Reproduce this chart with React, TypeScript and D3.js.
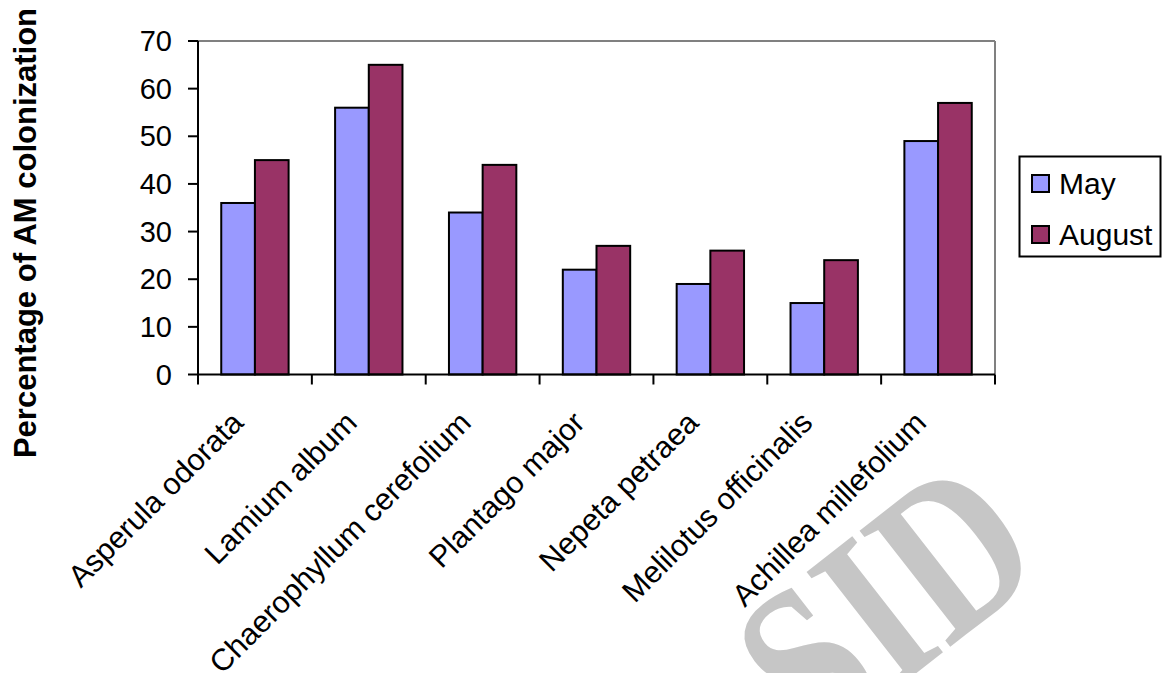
import React from "react";
import * as d3 from "d3";

const categories = [
  "Asperula odorata",
  "Lamium album",
  "Chaerophyllum cerefolium",
  "Plantago major",
  "Nepeta petraea",
  "Melilotus officinalis",
  "Achillea millefolium",
];
const seriesNames = ["May", "August"];
const mayValues = [36, 56, 34, 22, 19, 15, 49];
const augustValues = [45, 65, 44, 27, 26, 24, 57];
const yTicks = [0, 10, 20, 30, 40, 50, 60, 70];
const colors = ["#9999FF", "#993366"];
const yTitle = "Percentage of AM colonization";

const W = 1162;
const H = 673;
const left = 198;
const right = 995;
const top = 41;
const bottom = 374.5;
const FONT = "'Liberation Sans', Arial, sans-serif";

export default function App() {
  const x = d3.scaleBand<string>().domain(categories).range([left, right]).padding(0);
  const xi = d3
    .scaleBand<string>()
    .domain(seriesNames)
    .range([0, x.bandwidth()])
    .paddingInner(0)
    .paddingOuter(0.69);
  const y = d3.scaleLinear().domain([0, 70]).range([bottom, top]);
  const seriesValues = [mayValues, augustValues];
  const bw = x.bandwidth();

  return (
    <svg
      width={W}
      height={H}
      style={{ position: "absolute", left: 0, top: 0, background: "#fff" }}
      fontFamily={FONT}
    >
      {/* watermark */}
      <text
        transform="translate(885,601) rotate(-38) scale(0.8,1)"
        textAnchor="middle"
        dominantBaseline="central"
        fontSize={225}
        fontWeight="bold"
        fontFamily="'Liberation Serif', 'DejaVu Serif', serif"
        fill="#c6c6c6"
      >
        SID
      </text>

      {/* plot border (gray) */}
      <line x1={left} x2={right} y1={top} y2={top} stroke="#808080" strokeWidth={2} />
      <line x1={right} x2={right} y1={top} y2={bottom} stroke="#808080" strokeWidth={2} />

      {/* bars */}
      {seriesNames.map((s, si) =>
        categories.map((c, ci) => {
          const v = seriesValues[si][ci];
          return (
            <rect
              key={s + c}
              x={(x(c) as number) + (xi(s) as number)}
              y={y(v)}
              width={xi.bandwidth()}
              height={y(0) - y(v)}
              fill={colors[si]}
              stroke="#000"
              strokeWidth={2}
            />
          );
        })
      )}

      {/* y axis */}
      <line x1={left} x2={left} y1={top} y2={bottom} stroke="#000" strokeWidth={2} />
      {yTicks.map((t) => (
        <g key={t}>
          <line x1={left - 10} x2={left} y1={y(t)} y2={y(t)} stroke="#000" strokeWidth={2} />
          <text
            x={172}
            y={y(t)}
            textAnchor="end"
            dominantBaseline="central"
            fontSize={29}
            fill="#000"
          >
            {t}
          </text>
        </g>
      ))}

      {/* x axis */}
      <line x1={left} x2={right} y1={bottom} y2={bottom} stroke="#000" strokeWidth={2} />
      {[...categories.map((c) => x(c) as number), right].map((px, i) => (
        <line key={i} x1={px} x2={px} y1={bottom} y2={bottom + 10} stroke="#000" strokeWidth={2} />
      ))}
      {categories.map((c) => {
        const cx = (x(c) as number) + bw / 2;
        return (
          <text
            key={c}
            transform={`translate(${cx - 10},${bottom + 50}) rotate(-45)`}
            textAnchor="end"
            fontSize={30.5}
            fill="#000"
          >
            {c}
          </text>
        );
      })}

      {/* y title */}
      <text
        transform={`translate(36,${233}) rotate(-90)`}
        textAnchor="middle"
        fontSize={31}
        fontWeight="bold"
        fill="#000"
      >
        {yTitle}
      </text>

      {/* legend */}
      <rect x={1019.5} y={156.5} width={141} height={100} fill="#fff" stroke="#000" strokeWidth={2} />
      {seriesNames.map((s, i) => (
        <g key={s} transform={`translate(1032,${175 + i * 51})`}>
          <rect x={0} y={0} width={17} height={17} fill={colors[i]} stroke="#000" strokeWidth={2} />
          <text x={27} y={19} fontSize={30} fill="#000">
            {s}
          </text>
        </g>
      ))}
    </svg>
  );
}
